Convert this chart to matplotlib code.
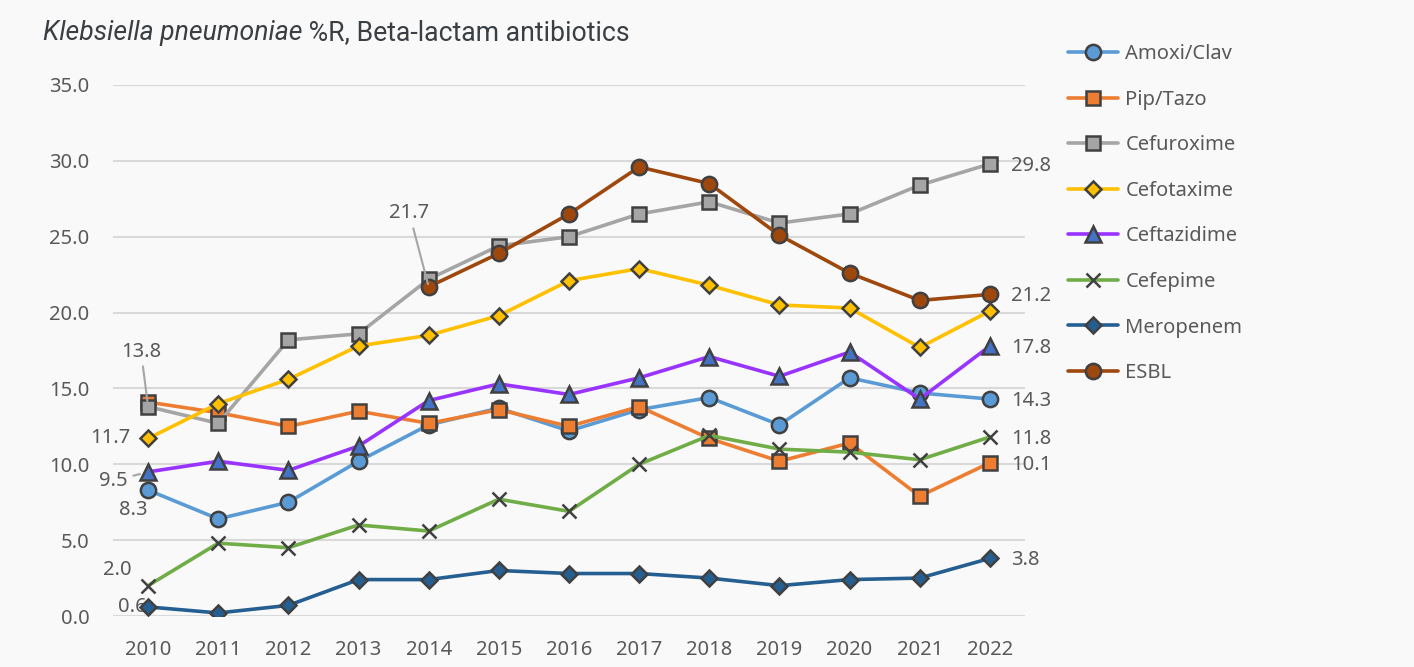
import matplotlib.pyplot as plt

plt.rcParams['font.family'] = ['Noto Sans', 'DejaVu Sans']

# years on the category axis
years = ['2010', '2011', '2012', '2013', '2014', '2015', '2016',
         '2017', '2018', '2019', '2020', '2021', '2022']

# %R per antibiotic
amoxi_clav = [8.3, 6.4, 7.5, 10.2, 12.6, 13.7, 12.2, 13.6, 14.4, 12.6, 15.7, 14.7, 14.3]
pip_tazo = [14.1, 13.4, 12.5, 13.5, 12.7, 13.6, 12.5, 13.8, 11.7, 10.2, 11.4, 7.9, 10.1]
cefuroxime = [13.8, 12.7, 18.2, 18.6, 22.2, 24.4, 25.0, 26.5, 27.3, 25.9, 26.5, 28.4, 29.8]
cefotaxime = [11.7, 14.0, 15.6, 17.8, 18.5, 19.8, 22.1, 22.9, 21.8, 20.5, 20.3, 17.7, 20.1]
ceftazidime = [9.5, 10.2, 9.6, 11.2, 14.2, 15.3, 14.6, 15.7, 17.1, 15.8, 17.4, 14.3, 17.8]
cefepime = [2.0, 4.8, 4.5, 6.0, 5.6, 7.7, 6.9, 10.0, 11.9, 11.0, 10.8, 10.3, 11.8]
meropenem = [0.6, 0.2, 0.7, 2.4, 2.4, 3.0, 2.8, 2.8, 2.5, 2.0, 2.4, 2.5, 3.8]
esbl = [None, None, None, None, 21.7, 23.9, 26.5, 29.6, 28.5, 25.1, 22.6, 20.8, 21.2]

bg = '#f9f9f9'
edge = '#404040'
txt = '#595959'

fig = plt.figure(figsize=(14.14, 6.67), dpi=100, facecolor=bg)
ax = fig.add_axes([113 / 1414, 1 - 616 / 667, 912 / 1414, 531 / 667])
ax.set_facecolor(bg)

x = list(range(len(years)))

series = [
    ('Amoxi/Clav', amoxi_clav, '#5b9bd5', 'o', '#5b9bd5', 11),
    ('Pip/Tazo', pip_tazo, '#ed7d31', 's', '#ed7d31', 10.5),
    ('Cefuroxime', cefuroxime, '#a5a5a5', 's', '#a5a5a5', 10.5),
    ('Cefotaxime', cefotaxime, '#ffc000', 'D', '#ffc000', 8),
    ('Ceftazidime', ceftazidime, '#9933ff', '^', '#4472c4', 11),
    ('Cefepime', cefepime, '#70ad47', 'x', edge, 10),
    ('Meropenem', meropenem, '#255e91', 'D', '#255e91', 8.5),
    ('ESBL', esbl, '#9e480e', 'o', '#9e480e', 11),
]

for name, vals, col, mk, mfc, ms in series:
    xs = [i for i, v in zip(x, vals) if v is not None]
    ys = [v for v in vals if v is not None]
    ax.plot(xs, ys, color=col, lw=2.6, marker=mk, markersize=ms,
            markerfacecolor=mfc, markeredgecolor=edge, markeredgewidth=1.8,
            label=name, solid_capstyle='round')

ax.set_xlim(-0.5, 12.5)
ax.set_ylim(0, 35)
ax.set_yticks([0, 5, 10, 15, 20, 25, 30, 35])
ax.set_yticklabels(['%.1f' % v for v in [0, 5, 10, 15, 20, 25, 30, 35]])
ax.set_xticks(x)
ax.set_xticklabels(years)
ax.grid(axis='y', color='#d9d9d9', lw=1.5)
ax.set_axisbelow(True)
for s in ax.spines.values():
    s.set_visible(False)
ax.tick_params(length=0, labelsize=14.5, colors=txt)
ax.tick_params(axis='y', pad=17)
ax.tick_params(axis='x', pad=17)

lab = dict(fontsize=14.5, color=txt)
lead = dict(arrowstyle='-', color='#a5a5a5', lw=1.5)

# labels on the first points
ax.annotate('13.8', xy=(0, 13.8), xytext=(-5, 32), textcoords='offset points',
            ha='center', va='bottom', arrowprops=dict(shrinkA=1, shrinkB=4, **lead), **lab)
ax.annotate('21.7', xy=(4, 21.7), xytext=(-14, 46), textcoords='offset points',
            ha='center', va='bottom', arrowprops=dict(shrinkA=2, shrinkB=2, **lead), **lab)
ax.annotate('11.7', xy=(0, 11.7), xytext=(-13, 0), textcoords='offset points',
            ha='right', va='center', **lab)
ax.annotate('9.5', xy=(0, 9.5), xytext=(-14.5, -6.5), textcoords='offset points',
            ha='right', va='center', arrowprops=dict(shrinkA=2, shrinkB=6, **lead), **lab)
ax.annotate('8.3', xy=(0, 8.3), xytext=(-11, -14), textcoords='offset points',
            ha='center', va='center', **lab)
ax.annotate('2.0', xy=(0, 2.0), xytext=(-22, 11), textcoords='offset points',
            ha='center', va='center', **lab)
ax.annotate('0.6', xy=(0, 0.6), xytext=(-1, 0), textcoords='offset points',
            ha='right', va='center', zorder=1.5, **lab)

# labels on the last points
for vals in [cefuroxime, esbl, ceftazidime, amoxi_clav, cefepime, pip_tazo, meropenem]:
    ax.annotate('%.1f' % vals[-1], xy=(12, vals[-1]), xytext=(15, -1.5),
                textcoords='offset points', ha='left', va='center', **lab)

# title, species name in italics, rest placed after it
t1 = fig.text(43 / 1414, 1 - 33 / 667, 'Klebsiella pneumoniae', fontsize=19.2, style='italic',
              color='#3a3f44', va='center', ha='left', family='Roboto')
fig.canvas.draw()
bb = t1.get_window_extent()
fig.text(bb.x1 / 1414, 1 - 33 / 667, ' %R, Beta-lactam antibiotics', fontsize=19.2,
         color='#3a3f44', va='center', ha='left', family='Roboto')

leg = fig.legend(loc='upper left', bbox_to_anchor=(1060 / 1414, 1 - 36 / 667), frameon=False,
                 fontsize=14.5, labelcolor=txt, handlelength=2.5, handletextpad=0.35,
                 labelspacing=1.27, borderaxespad=0)

fig.savefig('out.png', dpi=100, facecolor=bg)
